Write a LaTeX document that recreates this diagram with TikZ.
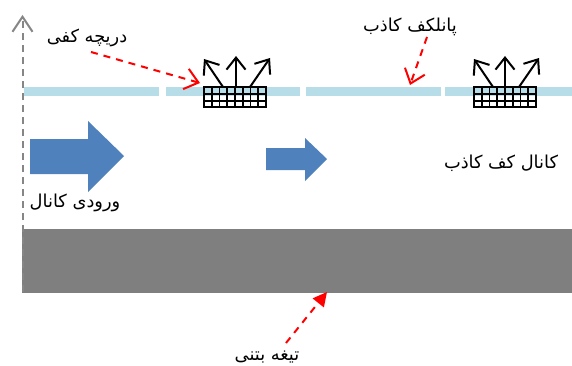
\documentclass[tikz,border=0pt]{standalone}
\usepackage{fontspec}
\usetikzlibrary{arrows.meta,shapes.arrows}
\TeXXeTstate=1
\newfontfamily\arabicfont[Script=Arabic]{DejaVu Sans}
\definecolor{bandblue}{HTML}{B7DEE8}
\definecolor{flowblue}{HTML}{4F81BD}
\definecolor{slabgray}{HTML}{7F7F7F}
\definecolor{axisgray}{HTML}{868686}
\tikzset{
  x=1pt,y=1pt,
  lab/.style={font=\arabicfont\fontsize{17.8}{19}\selectfont,inner sep=0pt,text=black},
  band/.style={fill=bandblue,draw=none},
  flow/.style={fill=flowblue,draw=none},
  redptr/.style={draw=red,line width=2pt,dash pattern=on 7pt off 6pt,-{Straight Barb[length=13pt,width=21pt,line width=2pt]}},
  redfill/.style={draw=red,line width=2pt,dash pattern=on 7pt off 6pt,-{Triangle[length=14pt,width=14pt]}},
  jet/.style={draw=black,line width=2pt,-{Straight Barb[length=12pt,width=19pt,line width=2pt]}},
  gridbox/.style={draw=none,minimum width=62pt,minimum height=20pt,inner sep=0pt,anchor=north west}
}
\newcommand{\gridcells}[1]{%
  \begin{scope}[shift={(#1.south west)}]
    \foreach \cx in {7.75,15.5,23.25,31,38.75,46.5,54.25}
      \draw[black,line width=1.7pt] (\cx,0) -- (\cx,20);
    \foreach \cy in {6.67,13.33}
      \draw[black,line width=1.7pt] (0,\cy) -- (62,\cy);
  \end{scope}
  \draw[black,line width=2pt] (#1.south west) rectangle (#1.north east);
}
\begin{document}
\begin{tikzpicture}
\useasboundingbox (0,0) rectangle (572,365);
\fill[white] (0,0) rectangle (572,365);
% slab
\node[fill=slabgray,draw=none,minimum width=550pt,minimum height=64pt,inner sep=0pt,anchor=north west] (slab) at (22,136) {};
% axis
\coordinate (axb) at (22.5,73);
\coordinate (axt) at (22.5,350);
\draw[axisgray,line width=2pt,dash pattern=on 7pt off 5pt,-{Straight Barb[length=15pt,width=20pt,line width=2pt]}] (axb) -- (axt);
% ceiling bands
\fill[band] (24,269.5) rectangle (158.5,278);
\fill[band] (166,269.5) rectangle (300,278);
\fill[band] (306,269.5) rectangle (441,278);
\fill[band] (444.5,269.5) rectangle (572,278);
% vents
\node[gridbox] (v1) at (204,278) {};
\node[gridbox] (v2) at (474,278) {};
\gridcells{v1}
\gridcells{v2}
\coordinate (v1a) at (223,278); \coordinate (v1A) at (204,306);
\coordinate (v1b) at (236,278); \coordinate (v1B) at (236,309);
\coordinate (v1c) at (250,278); \coordinate (v1C) at (270,307);
\coordinate (v2a) at (493,278); \coordinate (v2A) at (474,306);
\coordinate (v2b) at (505,278); \coordinate (v2B) at (505,309);
\coordinate (v2c) at (519,278); \coordinate (v2C) at (539,307);
\foreach \p/\q in {v1a/v1A,v1b/v1B,v1c/v1C,v2a/v2A,v2b/v2B,v2c/v2C}
  \draw[jet] (\p) -- (\q);
% flow arrows
\draw[flow,fill=flowblue] (30,226) -- (88,226) -- (88,244) -- (124,209) -- (88,173) -- (88,191) -- (30,191) -- cycle;
\draw[flow,fill=flowblue] (266,217) -- (305,217) -- (305,227) -- (327,206) -- (305,184) -- (305,195) -- (266,195) -- cycle;
% labels
\node[lab] (l1) at (87,327) {\beginR دریچه کفی\endR};
\node[lab] (l2) at (410,338) {\beginR پانلکف کاذب\endR};
\node[lab] (l3) at (501,202) {\beginR کانال کف کاذب\endR};
\node[lab] (l4) at (75,162) {\beginR ورودی کانال\endR};
\node[lab] (l5) at (267,8) {\beginR تیغه بتنی\endR};
% pointers
\coordinate (p1s) at (91,313); \coordinate (p1e) at (200,282);
\coordinate (p2s) at (427,328); \coordinate (p2e) at (410,280);
\coordinate (p3s) at (286,22); \coordinate (p3e) at (327,73);
\draw[redptr] (p1s) -- (p1e);
\draw[redptr] (p2s) -- (p2e);
\draw[redfill] (p3s) -- (p3e);
\end{tikzpicture}
\end{document}
